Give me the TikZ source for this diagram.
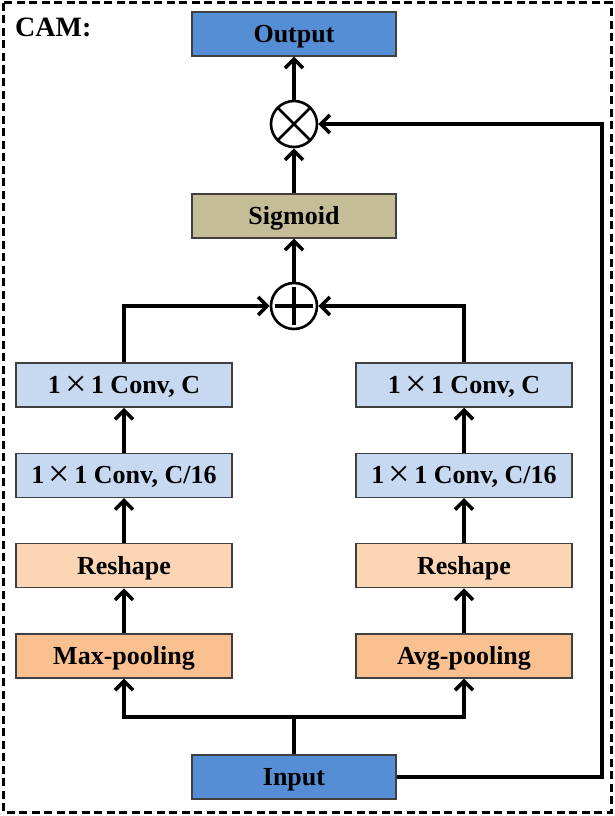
\documentclass[tikz,border=0pt]{standalone}
\usepackage{fontspec}
\setmainfont{Liberation Serif}
\usetikzlibrary{arrows.meta,positioning}
\definecolor{ioblue}{RGB}{85,142,213}
\definecolor{sigtan}{RGB}{196,189,151}
\definecolor{convblue}{RGB}{198,217,241}
\definecolor{shapepeach}{RGB}{252,213,181}
\definecolor{poolorange}{RGB}{250,192,144}
\newcommand{\kx}{{\,\raisebox{-2.5pt}{\mdseries\fontsize{38}{38}\selectfont ×}\,}}

\begin{document}
\begin{tikzpicture}[x=1pt,y=-1pt,font=\bfseries\fontsize{26}{30}\selectfont,node distance=45pt,
   blk/.style={draw=black!75,line width=1.3pt,minimum width=216pt,minimum height=44pt,
               inner sep=0pt,text height=20pt,text depth=3pt},
   io/.style={blk,fill=ioblue,minimum width=204pt},
   op/.style={draw,circle,line width=2.6pt,minimum size=46pt,inner sep=0pt},
   arr/.style={line width=3.6pt,-{Straight Barb[length=9pt,width=18pt]}},
   wire/.style={line width=3.6pt}]
  \useasboundingbox (0,0) rectangle (614,816);
  \draw[line width=3pt,dash pattern=on 8pt off 4.5pt] (3,3) rectangle (611,812);
  \node[anchor=base west,inner sep=0pt,font=\bfseries\fontsize{28}{32}\selectfont] (title) at (15,37) {CAM:};
  % top part
  \node[io] (out) at (294,34) {Output};
  \node[op] (mul) at (294,124) {};
  \node[blk,fill=sigtan,minimum width=204pt] (sig) at (294,216) {Sigmoid};
  \node[op] (add) at (294,306) {};
  % left branch
  \node[blk,fill=poolorange] (maxp) at (124,656) {Max-pooling};
  \node[blk,fill=shapepeach,above=of maxp] (rshl) {Reshape};
  \node[blk,fill=convblue,above=of rshl] (cvsl) {1\kx1 Conv, C/16};
  \node[blk,fill=convblue,above=of cvsl] (cvl) {1\kx1 Conv, C};
  % right branch
  \node[blk,fill=poolorange] (avgp) at (464,656) {Avg-pooling};
  \node[blk,fill=shapepeach,above=of avgp] (rshr) {Reshape};
  \node[blk,fill=convblue,above=of rshr] (cvsr) {1\kx1 Conv, C/16};
  \node[blk,fill=convblue,above=of cvsr] (cvr) {1\kx1 Conv, C};
  \node[io] (in) at (294,777) {Input};
  \coordinate (split) at (294,717);
  \coordinate (skip) at (602,124);
  % symbols
  \draw[line width=2.6pt,shorten >=1.5pt,shorten <=1.5pt] (mul.north west) -- (mul.south east);
  \draw[line width=2.6pt,shorten >=1.5pt,shorten <=1.5pt] (mul.north east) -- (mul.south west);
  \draw[line width=3.4pt,shorten >=5pt,shorten <=5pt] (add.north) -- (add.south);
  \draw[line width=3.4pt,shorten >=5pt,shorten <=5pt] (add.west) -- (add.east);
  % connectors
  \draw[wire] (in) -- (split);
  \draw[arr] (split) -| (maxp);
  \draw[arr] (split) -| (avgp);
  \draw[arr] (maxp) -- (rshl);
  \draw[arr] (rshl) -- (cvsl);
  \draw[arr] (cvsl) -- (cvl);
  \draw[arr] (avgp) -- (rshr);
  \draw[arr] (rshr) -- (cvsr);
  \draw[arr] (cvsr) -- (cvr);
  \draw[arr] (cvl) |- (add);
  \draw[arr] (cvr) |- (add);
  \draw[arr] (add) -- (sig);
  \draw[arr] (sig) -- (mul);
  \draw[arr] (mul) -- (out);
  \draw[arr] (in) -| (skip) -- (mul);
\end{tikzpicture}
\end{document}
